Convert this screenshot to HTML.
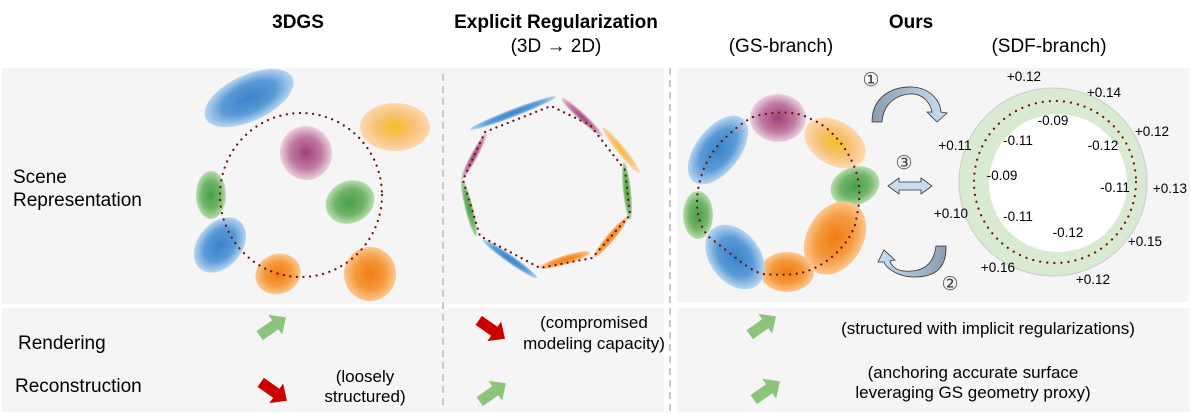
<!DOCTYPE html>
<html><head><meta charset="utf-8"><style>
body{margin:0;background:#fff;}
svg{display:block;font-family:"Liberation Sans",Arial,sans-serif;}
</style></head><body>
<svg width="1191" height="414" viewBox="0 0 1191 414" xmlns="http://www.w3.org/2000/svg">
<defs>
<radialGradient id="gb"><stop offset="0" stop-color="#3a82c8"/><stop offset="0.6" stop-color="#5a9ad6"/><stop offset="1" stop-color="#b8d6f0"/></radialGradient>
<radialGradient id="gp"><stop offset="0" stop-color="#a0407a"/><stop offset="0.6" stop-color="#c07aa2"/><stop offset="1" stop-color="#ead0de"/></radialGradient>
<radialGradient id="gy"><stop offset="0" stop-color="#f0c020"/><stop offset="0.5" stop-color="#f8c070"/><stop offset="1" stop-color="#fcd8b0"/></radialGradient>
<radialGradient id="gg"><stop offset="0" stop-color="#48a048"/><stop offset="0.6" stop-color="#70b468"/><stop offset="1" stop-color="#b8dcb0"/></radialGradient>
<radialGradient id="go"><stop offset="0" stop-color="#f07c10"/><stop offset="0.6" stop-color="#f59a40"/><stop offset="1" stop-color="#fbc890"/></radialGradient>
<linearGradient id="ga" x1="0" y1="0" x2="1" y2="0"><stop offset="0" stop-color="#8a9cb0"/><stop offset="1" stop-color="#c8e0f4"/></linearGradient>
<linearGradient id="ga2" x1="1" y1="0" x2="0" y2="0"><stop offset="0" stop-color="#8a9cb0"/><stop offset="1" stop-color="#c8e0f4"/></linearGradient>
</defs>
<!-- panels -->
<rect x="2" y="68" width="662" height="236" fill="#f5f5f5"/>
<rect x="2" y="308" width="662" height="104" fill="#f5f5f5"/>
<rect x="677" y="68" width="512" height="234" fill="#f5f5f5"/>
<rect x="677" y="308" width="512" height="104" fill="#f5f5f5"/>
<line x1="443" y1="74" x2="443" y2="410" stroke="#c8c8c8" stroke-width="2" stroke-dasharray="7,5"/>
<line x1="670" y1="68" x2="670" y2="412" stroke="#c8c8c8" stroke-width="2" stroke-dasharray="7,5"/>

<!-- headers -->
<g font-size="19" text-anchor="middle" fill="#000">
<text x="298" y="28" font-weight="bold">3DGS</text>
<text x="556" y="28" font-weight="bold">Explicit Regularization</text>
<text x="556" y="52">(3D → 2D)</text>
<text x="911" y="28" font-weight="bold">Ours</text>
<text x="781" y="52">(GS-branch)</text>
<text x="1049" y="52">(SDF-branch)</text>
</g>
<g font-size="19" fill="#000">
<text x="13" y="183">Scene</text>
<text x="13" y="206">Representation</text>
<text x="18" y="349">Rendering</text>
<text x="15" y="392">Reconstruction</text>
</g>

<!-- 3DGS -->
<ellipse cx="249" cy="98" rx="48" ry="23" transform="rotate(-25 249 98)" fill="url(#gb)"/>
<ellipse cx="395" cy="127" rx="35" ry="24" fill="url(#gy)"/>
<ellipse cx="306" cy="153" rx="26" ry="27" transform="rotate(-12 306 153)" fill="url(#gp)"/>
<ellipse cx="211" cy="195" rx="15" ry="24" fill="url(#gg)"/>
<ellipse cx="350" cy="202" rx="25" ry="21" transform="rotate(-25 350 202)" fill="url(#gg)"/>
<ellipse cx="220" cy="245" rx="22" ry="31" transform="rotate(40 220 245)" fill="url(#gb)"/>
<ellipse cx="278" cy="274" rx="23" ry="20" transform="rotate(-20 278 274)" fill="url(#go)"/>
<ellipse cx="370" cy="274" rx="26" ry="27" fill="url(#go)"/>
<ellipse cx="301" cy="195" rx="81" ry="82" fill="none" stroke="#6a1010" stroke-width="2.2" stroke-dasharray="0.1,6.5" stroke-linecap="round"/>

<!-- Explicit -->
<g>
<ellipse cx="513" cy="113" rx="46" ry="4" transform="rotate(-21 513 113)" fill="url(#gb)"/>
<ellipse cx="582" cy="117" rx="28" ry="4" transform="rotate(43 582 117)" fill="url(#gp)"/>
<ellipse cx="621" cy="150" rx="29" ry="4" transform="rotate(51 621 150)" fill="url(#gy)"/>
<ellipse cx="627" cy="191" rx="29" ry="4" transform="rotate(84 627 191)" fill="url(#gg)"/>
<ellipse cx="611" cy="237" rx="26" ry="4" transform="rotate(-50 611 237)" fill="url(#go)"/>
<ellipse cx="565" cy="260" rx="26" ry="4.5" transform="rotate(-17 565 260)" fill="url(#go)"/>
<ellipse cx="510" cy="259" rx="33" ry="4" transform="rotate(35 510 259)" fill="url(#gb)"/>
<ellipse cx="469" cy="208" rx="29" ry="4" transform="rotate(76 469 208)" fill="url(#gg)"/>
<ellipse cx="474" cy="156" rx="27" ry="3.5" transform="rotate(-62 474 156)" fill="url(#gp)"/>
<polygon points="485,132 551,106 590,125 625,170 630,215 592,258 540,268 480,236 463,180" fill="none" stroke="#6a1010" stroke-width="2.2" stroke-dasharray="0.1,6" stroke-linecap="round"/>
</g>

<!-- Ours GS -->
<ellipse cx="718" cy="150" rx="40" ry="22" transform="rotate(-52 718 150)" fill="url(#gb)"/>
<ellipse cx="778" cy="118" rx="28" ry="24" fill="url(#gp)"/>
<ellipse cx="835" cy="143" rx="33" ry="22" transform="rotate(30 835 143)" fill="url(#gy)"/>
<ellipse cx="855" cy="186" rx="25" ry="19" transform="rotate(-20 855 186)" fill="url(#gg)"/>
<ellipse cx="835" cy="238" rx="28" ry="39" transform="rotate(30 835 238)" fill="url(#go)"/>
<ellipse cx="787" cy="272" rx="27" ry="20" fill="url(#go)"/>
<ellipse cx="735" cy="257" rx="25" ry="36" transform="rotate(-38 735 257)" fill="url(#gb)"/>
<ellipse cx="698" cy="215" rx="15" ry="24" fill="url(#gg)"/>
<path d="M753,117 C775,110 800,112 808,118 C830,125 850,150 857,175 C862,195 858,210 855,225 C848,245 830,262 810,270 C795,276 780,275 762,274 C745,268 730,252 710,238 C700,228 697,215 697,200 C698,180 705,160 720,143 C733,130 743,122 753,117 Z" fill="none" stroke="#6a1010" stroke-width="2.2" stroke-dasharray="0.1,6.5" stroke-linecap="round"/>

<!-- arrows between -->
<g fill="#444" font-size="19" text-anchor="middle">
<text x="871" y="86">①</text><text x="904" y="169">③</text><text x="950" y="290">②</text>
</g>
<path d="M872,122 C872,95 895,86 912,87 C930,88 940,100 941,112 L947,113 L937,122 L927,112 L932,112 C930,102 922,93 910,94 C895,95 883,105 882,122 Z" fill="url(#ga)" stroke="#333" stroke-width="0.8"/>
<path d="M946,246 C947,272 930,277 914,277 C898,277 886,268 884,262 L878,262 L884,250 L895,260 L890,261 C893,270 902,272 912,271 C926,270 934,262 936,246 Z" fill="url(#ga2)" stroke="#333" stroke-width="0.8"/>
<polygon points="888,186 899,178 899,182 921,182 921,178 932,186 921,194 921,190 899,190 899,194" fill="#c8dcf0" stroke="#333" stroke-width="0.8"/>

<!-- SDF ring -->
<circle cx="1053" cy="182" r="94" fill="#d8ebd2" stroke="#ccc" stroke-width="1"/>
<circle cx="1058" cy="183" r="69" fill="#fff"/>
<circle cx="1055" cy="182" r="81" fill="none" stroke="#6a1010" stroke-width="2.2" stroke-dasharray="0.1,7" stroke-linecap="round"/>
<g font-size="13.5" fill="#000" text-anchor="middle">
<text x="1024" y="81">+0.12</text>
<text x="1104" y="97">+0.14</text>
<text x="1152" y="136">+0.12</text>
<text x="955" y="150">+0.11</text>
<text x="1170" y="193">+0.13</text>
<text x="951" y="218">+0.10</text>
<text x="1145" y="246">+0.15</text>
<text x="998" y="272">+0.16</text>
<text x="1093" y="284">+0.12</text>
<text x="1053" y="125">-0.09</text>
<text x="1018" y="145">-0.11</text>
<text x="1103" y="150">-0.12</text>
<text x="1002" y="180">-0.09</text>
<text x="1115" y="192">-0.11</text>
<text x="1018" y="221">-0.11</text>
<text x="1068" y="237">-0.12</text>
</g>

<!-- bottom arrows -->
<g>
<g transform="translate(272,327) rotate(-35)"><polygon points="-15,-5.5 4,-5.5 4,-12 17,0 4,12 4,5.5 -15,5.5" fill="#8cc47c"/></g>
<g transform="translate(273,391) rotate(35)"><polygon points="-15,-5.5 4,-5.5 4,-12 17,0 4,12 4,5.5 -15,5.5" fill="#cc0000"/></g>
<g transform="translate(491,329) rotate(35)"><polygon points="-15,-5.5 4,-5.5 4,-12 17,0 4,12 4,5.5 -15,5.5" fill="#cc0000"/></g>
<g transform="translate(492,393) rotate(-35)"><polygon points="-15,-5.5 4,-5.5 4,-12 17,0 4,12 4,5.5 -15,5.5" fill="#8cc47c"/></g>
<g transform="translate(762,326) rotate(-35)"><polygon points="-15,-5.5 4,-5.5 4,-12 17,0 4,12 4,5.5 -15,5.5" fill="#8cc47c"/></g>
<g transform="translate(766,391) rotate(-35)"><polygon points="-15,-5.5 4,-5.5 4,-12 17,0 4,12 4,5.5 -15,5.5" fill="#8cc47c"/></g>
</g>
<g font-size="17" fill="#000" text-anchor="middle">
<text x="365" y="382">(loosely</text>
<text x="365" y="402">structured)</text>
<text x="594" y="328">(compromised</text>
<text x="594" y="349">modeling capacity)</text>
<text x="988" y="334">(structured with implicit regularizations)</text>
<text x="973" y="378">(anchoring accurate surface</text>
<text x="973" y="398">leveraging GS geometry proxy)</text>
</g>
</svg>
</body></html>
